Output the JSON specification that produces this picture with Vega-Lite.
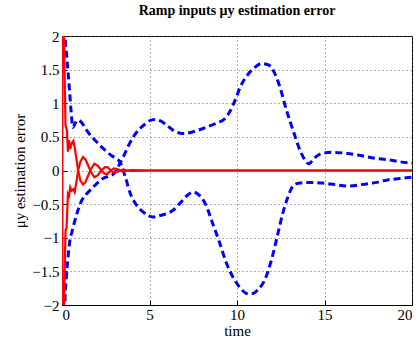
{
  "$schema": "https://vega.github.io/schema/vega-lite/v6.json",
  "width": 350,
  "height": 269,
  "autosize": {"type": "none"},
  "padding": {"left": 62, "top": 36, "right": 6, "bottom": 36},
  "background": "white",
  "title": {"text": "Ramp inputs μy estimation error", "font": "Liberation Serif", "fontSize": 14, "fontWeight": "bold", "color": "black", "offset": 11, "anchor": "middle"},
  "config": {
    "view": {"stroke": "black", "strokeWidth": 1},
    "axis": {
      "labelFont": "Liberation Serif", "labelFontSize": 15, "labelColor": "black",
      "titleFont": "Liberation Serif", "titleFontSize": 15, "titleFontWeight": "normal", "titleColor": "black",
      "domainColor": "black", "tickColor": "black", "tickSize": -5,
      "gridColor": "#555", "gridDash": [1, 3], "gridOpacity": 0.9,
      "labelPadding": 8, "format": "~g"
    }
  },
  "data": {"values": [
    {"s":"A","t":0.12,"v":2.6},{"s":"A","t":0.18,"v":2.0},{"s":"A","t":0.27,"v":1.7},{"s":"A","t":0.35,"v":1.45},{"s":"A","t":0.44,"v":1.15},{"s":"A","t":0.53,"v":0.85},{"s":"A","t":0.62,"v":0.64},{"s":"A","t":0.75,"v":0.7},{"s":"A","t":0.9,"v":0.75},{"s":"A","t":1.1,"v":0.72},{"s":"A","t":1.4,"v":0.6},{"s":"A","t":1.7,"v":0.5},{"s":"A","t":2.0,"v":0.42},{"s":"A","t":2.3,"v":0.34},{"s":"A","t":2.6,"v":0.27},{"s":"A","t":2.9,"v":0.21},{"s":"A","t":3.1,"v":0.18},{"s":"A","t":3.3,"v":0.13},{"s":"A","t":3.6,"v":-0.08},{"s":"A","t":3.9,"v":-0.34},{"s":"A","t":4.3,"v":-0.53},{"s":"A","t":4.65,"v":-0.62},{"s":"A","t":4.9,"v":-0.67},{"s":"A","t":5.2,"v":-0.69},{"s":"A","t":5.6,"v":-0.67},{"s":"A","t":6.0,"v":-0.64},{"s":"A","t":6.4,"v":-0.58},{"s":"A","t":6.8,"v":-0.47},{"s":"A","t":7.2,"v":-0.36},{"s":"A","t":7.5,"v":-0.32},{"s":"A","t":7.8,"v":-0.36},{"s":"A","t":8.2,"v":-0.5},{"s":"A","t":8.6,"v":-0.78},{"s":"A","t":9.0,"v":-1.07},{"s":"A","t":9.4,"v":-1.38},{"s":"A","t":9.8,"v":-1.6},{"s":"A","t":10.2,"v":-1.75},{"s":"A","t":10.6,"v":-1.83},{"s":"A","t":10.9,"v":-1.83},{"s":"A","t":11.2,"v":-1.77},{"s":"A","t":11.6,"v":-1.62},{"s":"A","t":12.0,"v":-1.3},{"s":"A","t":12.3,"v":-0.98},{"s":"A","t":12.6,"v":-0.65},{"s":"A","t":12.9,"v":-0.4},{"s":"A","t":13.2,"v":-0.23},{"s":"A","t":13.5,"v":-0.19},{"s":"A","t":14.0,"v":-0.18},{"s":"A","t":14.5,"v":-0.18},{"s":"A","t":15.0,"v":-0.19},{"s":"A","t":15.6,"v":-0.21},{"s":"A","t":16.3,"v":-0.23},{"s":"A","t":17.1,"v":-0.21},{"s":"A","t":17.9,"v":-0.18},{"s":"A","t":18.6,"v":-0.14},{"s":"A","t":19.3,"v":-0.12},{"s":"A","t":20,"v":-0.1},
    {"s":"B","t":0.12,"v":-2.6},{"s":"B","t":0.17,"v":-1.95},{"s":"B","t":0.26,"v":-1.55},{"s":"B","t":0.35,"v":-1.28},{"s":"B","t":0.44,"v":-1.06},{"s":"B","t":0.58,"v":-0.9},{"s":"B","t":0.72,"v":-0.76},{"s":"B","t":0.9,"v":-0.6},{"s":"B","t":1.1,"v":-0.46},{"s":"B","t":1.4,"v":-0.35},{"s":"B","t":1.7,"v":-0.27},{"s":"B","t":2.0,"v":-0.19},{"s":"B","t":2.34,"v":-0.12},{"s":"B","t":2.7,"v":-0.08},{"s":"B","t":2.95,"v":-0.05},{"s":"B","t":3.2,"v":0.05},{"s":"B","t":3.5,"v":0.2},{"s":"B","t":3.8,"v":0.37},{"s":"B","t":4.1,"v":0.51},{"s":"B","t":4.4,"v":0.61},{"s":"B","t":4.7,"v":0.68},{"s":"B","t":5.0,"v":0.74},{"s":"B","t":5.3,"v":0.76},{"s":"B","t":5.6,"v":0.74},{"s":"B","t":6.0,"v":0.67},{"s":"B","t":6.4,"v":0.59},{"s":"B","t":6.9,"v":0.55},{"s":"B","t":7.4,"v":0.57},{"s":"B","t":7.9,"v":0.61},{"s":"B","t":8.4,"v":0.66},{"s":"B","t":8.9,"v":0.71},{"s":"B","t":9.3,"v":0.77},{"s":"B","t":9.6,"v":0.88},{"s":"B","t":9.9,"v":1.05},{"s":"B","t":10.2,"v":1.25},{"s":"B","t":10.6,"v":1.42},{"s":"B","t":11.0,"v":1.53},{"s":"B","t":11.4,"v":1.59},{"s":"B","t":11.8,"v":1.57},{"s":"B","t":12.2,"v":1.42},{"s":"B","t":12.5,"v":1.2},{"s":"B","t":12.8,"v":0.92},{"s":"B","t":13.2,"v":0.6},{"s":"B","t":13.6,"v":0.3},{"s":"B","t":13.9,"v":0.15},{"s":"B","t":14.1,"v":0.1},{"s":"B","t":14.4,"v":0.18},{"s":"B","t":14.8,"v":0.25},{"s":"B","t":15.4,"v":0.27},{"s":"B","t":16.1,"v":0.26},{"s":"B","t":16.9,"v":0.23},{"s":"B","t":17.9,"v":0.18},{"s":"B","t":18.65,"v":0.16},{"s":"B","t":19.3,"v":0.13},{"s":"B","t":20,"v":0.11},
    {"s":"R1","t":0.0,"v":-2.5},{"s":"R1","t":0.02,"v":2.5},{"s":"R1","t":0.08,"v":2.5},{"s":"R1","t":0.2,"v":0.68},{"s":"R1","t":0.28,"v":0.6},{"s":"R1","t":0.34,"v":0.28},{"s":"R1","t":0.4,"v":0.45},{"s":"R1","t":0.47,"v":0.32},{"s":"R1","t":0.55,"v":0.4},{"s":"R1","t":0.65,"v":0.44},{"s":"R1","t":0.72,"v":0.35},{"s":"R1","t":0.82,"v":0.18},{"s":"R1","t":0.92,"v":0.0},{"s":"R1","t":1.05,"v":-0.15},{"s":"R1","t":1.2,"v":-0.21},{"s":"R1","t":1.35,"v":-0.17},{"s":"R1","t":1.5,"v":-0.07},{"s":"R1","t":1.65,"v":0.02},{"s":"R1","t":1.85,"v":0.1},{"s":"R1","t":2.05,"v":0.07},{"s":"R1","t":2.25,"v":0.0},{"s":"R1","t":2.45,"v":-0.05},{"s":"R1","t":2.6,"v":-0.05},{"s":"R1","t":2.8,"v":0.0},{"s":"R1","t":2.95,"v":0.03},{"s":"R1","t":3.15,"v":0.02},{"s":"R1","t":3.35,"v":0.0},{"s":"R1","t":3.5,"v":-0.015},{"s":"R1","t":3.7,"v":0.0},{"s":"R1","t":4.0,"v":0.005},{"s":"R1","t":5.0,"v":0.0},{"s":"R1","t":20,"v":0.0},
    {"s":"R2","t":0.0,"v":2.5},{"s":"R2","t":0.02,"v":-2.5},{"s":"R2","t":0.08,"v":-2.5},{"s":"R2","t":0.2,"v":-0.9},{"s":"R2","t":0.26,"v":-0.85},{"s":"R2","t":0.34,"v":-0.35},{"s":"R2","t":0.4,"v":-0.38},{"s":"R2","t":0.47,"v":-0.25},{"s":"R2","t":0.55,"v":-0.3},{"s":"R2","t":0.65,"v":-0.28},{"s":"R2","t":0.72,"v":-0.32},{"s":"R2","t":0.82,"v":-0.18},{"s":"R2","t":0.92,"v":0.0},{"s":"R2","t":1.05,"v":0.13},{"s":"R2","t":1.2,"v":0.2},{"s":"R2","t":1.35,"v":0.16},{"s":"R2","t":1.5,"v":0.07},{"s":"R2","t":1.65,"v":-0.02},{"s":"R2","t":1.85,"v":-0.1},{"s":"R2","t":2.05,"v":-0.07},{"s":"R2","t":2.25,"v":0.0},{"s":"R2","t":2.45,"v":0.05},{"s":"R2","t":2.6,"v":0.05},{"s":"R2","t":2.8,"v":0.0},{"s":"R2","t":2.95,"v":-0.03},{"s":"R2","t":3.15,"v":-0.02},{"s":"R2","t":3.35,"v":0.0},{"s":"R2","t":3.5,"v":0.015},{"s":"R2","t":3.7,"v":0.0},{"s":"R2","t":4.0,"v":-0.005},{"s":"R2","t":5.0,"v":0.0},{"s":"R2","t":20,"v":0.0}
  ]},
  "encoding": {
    "x": {"field": "t", "type": "quantitative", "scale": {"domain": [0, 20], "nice": false, "zero": false},
          "axis": {"title": "time", "values": [0, 5, 10, 15, 20], "grid": true, "titlePadding": 1, "labelPadding": 7}},
    "y": {"field": "v", "type": "quantitative", "scale": {"domain": [-2, 2], "nice": false},
          "axis": {"title": "μy estimation error", "values": [-2, -1.5, -1, -0.5, 0, 0.5, 1, 1.5, 2], "grid": true, "titlePadding": 4}},
    "detail": {"field": "s", "type": "nominal"}
  },
  "layer": [
    {"transform": [{"filter": "datum.s == 'A' || datum.s == 'B'"}],
     "mark": {"type": "line", "color": "#0000ff", "strokeWidth": 3, "strokeDash": [7, 4], "clip": true, "interpolate": "monotone"}},
    {"transform": [{"filter": "datum.s == 'R1' || datum.s == 'R2'"}],
     "mark": {"type": "line", "color": "#ff0000", "strokeWidth": 2.2, "clip": true}}
  ]
}
